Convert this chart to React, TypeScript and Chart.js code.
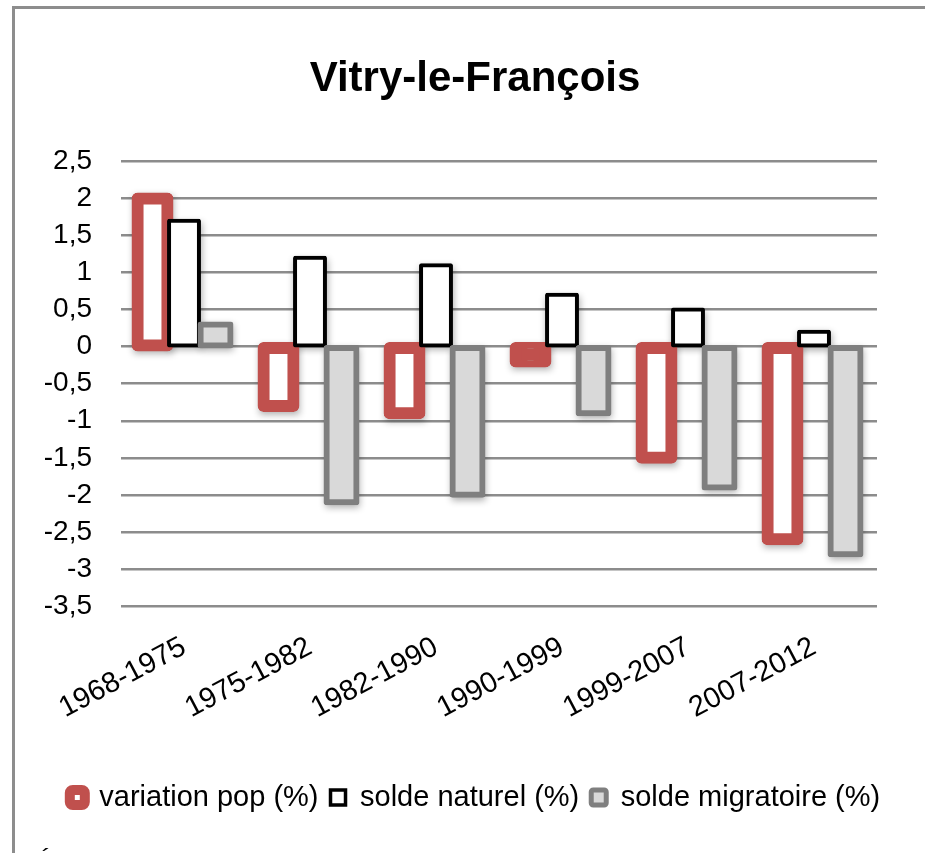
import React, { useEffect, useRef } from "react";
import { Chart, registerables } from "chart.js";

Chart.register(...registerables);

const TITLE = "Vitry-le-François";
const CATEGORIES = ["1968-1975", "1975-1982", "1982-1990", "1990-1999", "1999-2007", "2007-2012"];
const SERIES_NAMES = ["variation pop (%)", "solde naturel (%)", "solde migratoire (%)"];
const VARIATION_POP = [2.0, -0.8, -0.9, -0.2, -1.5, -2.6];
const SOLDE_NATUREL = [1.7, 1.2, 1.1, 0.7, 0.5, 0.2];
const SOLDE_MIGRATOIRE = [0.3, -2.1, -2.0, -0.9, -1.9, -2.8];
const Y_TICKS = [2.5, 2, 1.5, 1, 0.5, 0, -0.5, -1, -1.5, -2, -2.5, -3, -3.5];

const RED = "#c0504d";
const BLACK = "#000000";
const GRAY = "#7f7f7f";
const LIGHT = "#d9d9d9";
const FONT = "'Liberation Sans', Arial, Helvetica, sans-serif";

const CANVAS_W = 920;
const CANVAS_H = 844;

const orderedDrawPlugin = {
  id: "orderedDraw",
  beforeDatasetsDraw(chart: any) {
    const ctx = chart.ctx;
    const OFF = 10000;
    ctx.save();
    ctx.shadowColor = "rgba(0,0,0,0.32)";
    ctx.shadowBlur = 7;
    ctx.shadowOffsetX = OFF + 1;
    ctx.shadowOffsetY = 3;
    ctx.fillStyle = "#000";
    chart.data.datasets.forEach((ds: any, i: number) => {
      const meta = chart.getDatasetMeta(i);
      const inf = ds.inflateAmount || 0;
      meta.data.forEach((bar: any) => {
        const { x, y, base, width } = bar.getProps(["x", "y", "base", "width"], true);
        const top = Math.min(y, base) - inf;
        const h = Math.abs(base - y) + 2 * inf;
        ctx.fillRect(x - width / 2 - inf - OFF, top, width + 2 * inf, h);
      });
    });
    ctx.restore();
    for (let i = 0; i < chart.data.datasets.length; i++) {
      chart.getDatasetMeta(i).controller.draw();
    }
    return false;
  },
};

export default function App() {
  const ref = useRef<HTMLCanvasElement | null>(null);

  useEffect(() => {
    if (!ref.current) return;
    const smallRedFill = (c: any) => {
      const v = c.raw;
      const ys = c.chart && c.chart.scales ? c.chart.scales.y : null;
      if (!ys || typeof v !== "number") return "#ffffff";
      const h = Math.abs(ys.getPixelForValue(v) - ys.getPixelForValue(0));
      return h < 24 ? RED : "#ffffff";
    };
    const chart = new Chart(ref.current, {
      type: "bar",
      data: {
        labels: CATEGORIES,
        datasets: [
          {
            label: SERIES_NAMES[0],
            data: VARIATION_POP,
            backgroundColor: smallRedFill,
            borderColor: RED,
            borderWidth: 12,
            inflateAmount: 6,
            borderRadius: 6,
            borderSkipped: false,
            yAxisID: "y",
          } as any,
          {
            label: SERIES_NAMES[1],
            data: SOLDE_NATUREL,
            backgroundColor: "#ffffff",
            borderColor: BLACK,
            borderWidth: 4,
            inflateAmount: 2,
            borderRadius: 2,
            borderSkipped: false,
            yAxisID: "y",
          } as any,
          {
            label: SERIES_NAMES[2],
            data: SOLDE_MIGRATOIRE,
            backgroundColor: LIGHT,
            borderColor: GRAY,
            borderWidth: 6,
            inflateAmount: 3,
            borderRadius: 3,
            borderSkipped: false,
            yAxisID: "y",
          } as any,
        ],
      },
      options: {
        responsive: false,
        animation: false,
        devicePixelRatio: 1,
        datasets: { bar: { categoryPercentage: 0.75, barPercentage: 0.95 } } as any,
        layout: { padding: { top: 0, left: 0, right: 0, bottom: 31 } },
        plugins: {
          tooltip: { enabled: false },
          title: {
            display: true,
            text: TITLE,
            color: "#000",
            font: { family: FONT, size: 42, weight: "bold" },
            padding: { top: 45, bottom: 57 },
          },
          legend: {
            display: true,
            position: "bottom",
            labels: {
              color: "#000",
              font: { family: FONT, size: 29 },
              boxWidth: 15,
              boxHeight: 15,
              padding: 12,
              generateLabels: () => [
                { text: SERIES_NAMES[0], fillStyle: "#ffffff", strokeStyle: RED, lineWidth: 10, borderRadius: 3, datasetIndex: 0, hidden: false },
                { text: SERIES_NAMES[1], fillStyle: "#ffffff", strokeStyle: BLACK, lineWidth: 3.5, borderRadius: 0, datasetIndex: 1, hidden: false },
                { text: SERIES_NAMES[2], fillStyle: LIGHT, strokeStyle: GRAY, lineWidth: 5, borderRadius: 2, datasetIndex: 2, hidden: false },
              ] as any,
            },
          },
        },
        scales: {
          x: {
            type: "category",
            grid: { display: false, drawTicks: false },
            border: { display: false },
            ticks: {
              color: "#000",
              font: { family: FONT, size: 29 },
              minRotation: 28,
              maxRotation: 28,
              autoSkip: false,
              padding: 24,
            },
            afterFit: (s: any) => {
              s.height = 165;
            },
          },
          y: {
            type: "linear",
            position: "left",
            min: -3.5,
            max: 2.5,
            grid: { color: "#8c8c8c", lineWidth: 2.5, drawTicks: false },
            border: { display: false },
            ticks: {
              color: "#000",
              font: { family: FONT, size: 28 },
              padding: 29,
              callback: (v: any) => String(v).replace(".", ","),
            },
            afterBuildTicks: (s: any) => {
              s.ticks = Y_TICKS.map((v) => ({ value: v }));
            },
            afterFit: (s: any) => {
              s.width = 106;
            },
          },
          y2: {
            type: "linear",
            position: "right",
            display: true,
            grid: { display: false, drawTicks: false },
            border: { display: false },
            ticks: { display: false },
            afterFit: (s: any) => {
              s.width = CANVAS_W - 862;
            },
          },
        },
      } as any,
      plugins: [orderedDrawPlugin],
    });
    return () => chart.destroy();
  }, []);

  return (
    <>
      <div
        style={{
          position: "fixed",
          left: 12,
          top: 6,
          width: 925 - 12,
          height: 853 - 6,
          borderLeft: "3px solid #8d8d8d",
          borderTop: "3px solid #8d8d8d",
          boxSizing: "border-box",
          overflow: "hidden",
          background: "#fff",
        }}
      >
        <canvas ref={ref} width={CANVAS_W} height={CANVAS_H} style={{ display: "block" }} />
      </div>
      <div
        style={{
          position: "fixed",
          left: 35,
          top: 847,
          fontFamily: FONT,
          fontSize: 28,
          lineHeight: "normal",
          color: "#000",
          whiteSpace: "nowrap",
        }}
      >
        É
      </div>
    </>
  );
}
